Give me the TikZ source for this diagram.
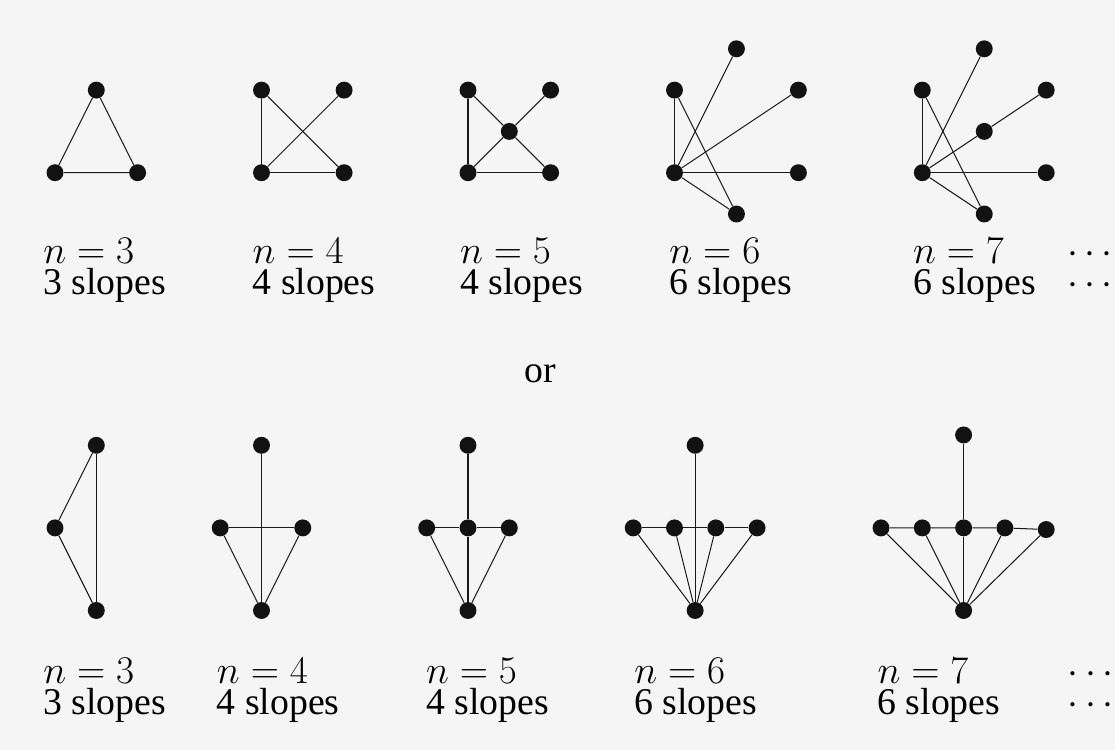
\RequirePackage{fix-cm}
\documentclass[tikz,border=0pt]{standalone}
\usepackage[no-math]{fontspec}
\setmainfont{Liberation Serif}
\usepackage{xcolor}
\definecolor{bgcol}{HTML}{F5F5F5}
\tikzset{
  vtx/.style={circle,fill=black!93,inner sep=0pt,minimum size=0.41cm},
  edg/.style={line width=0.7pt,black!90},
  lbl/.style={anchor=base west,inner sep=0pt,font=\fontsize{26}{28}\selectfont},
  mlbl/.style={lbl,font=\fontsize{27}{29}\selectfont},
}

\begin{document}
\begin{tikzpicture}
	\fill[bgcol] (-1.332,-13.978) rectangle (25.666,4.182);
	\useasboundingbox (-1.332,-13.978) rectangle (25.666,4.182);

	% (top row, n=3)
	\node[vtx] (t3a) at (0,0) {};
	\node[vtx] (t3b) at (1,2) {};
	\node[vtx] (t3c) at (2,0) {};
	\draw[edg] (t3a) -- (t3b) -- (t3c) -- (t3a);

	% (top row, n=4)
	\begin{scope}[xshift=5cm]
		\node[vtx] (t4a) at (0,0) {};
		\node[vtx] (t4b) at (0,2) {};
		\node[vtx] (t4c) at (2,2) {};
		\node[vtx] (t4d) at (2,0) {};
		\draw[edg] (t4a) -- (t4b);
		\draw[edg] (t4a) -- (t4d);
		\draw[edg] (t4b) -- (t4d);
		\draw[edg] (t4a) -- (t4c);
	\end{scope}

	% (top row, n=5)
	\begin{scope}[xshift=10cm]
		\node[vtx] (t5a) at (0,0) {};
		\node[vtx] (t5b) at (0,2) {};
		\node[vtx] (t5c) at (2,2) {};
		\node[vtx] (t5m) at (1,1) {};
		\node[vtx] (t5d) at (2,0) {};
		\draw[edg] (t5a) -- (t5b);
		\draw[edg] (t5a) -- (t5d);
		\draw[edg] (t5b) -- (t5m) -- (t5d);
		\draw[edg] (t5a) -- (t5m) -- (t5c);
	\end{scope}

	% (top row, n=6)
	\begin{scope}[xshift=15cm]
		\node[vtx] (t6o) at (0,0) {};
		\node[vtx] (t6b) at (0,2) {};
		\node[vtx] (t6c) at (1.5,3) {};
		\node[vtx] (t6d) at (3,2) {};
		\node[vtx] (t6e) at (3,0) {};
		\node[vtx] (t6f) at (1.5,-1) {};
		\draw[edg] (t6o) -- (t6b);
		\draw[edg] (t6o) -- (t6c);
		\draw[edg] (t6o) -- (t6d);
		\draw[edg] (t6o) -- (t6e);
		\draw[edg] (t6o) -- (t6f);
		\draw[edg] (t6b) -- (t6f);
	\end{scope}

	% (top row, n=7)
	\begin{scope}[xshift=21cm]
		\node[vtx] (t7o) at (0,0) {};
		\node[vtx] (t7b) at (0,2) {};
		\node[vtx] (t7c) at (1.5,3) {};
		\node[vtx] (t7d) at (3,2) {};
		\node[vtx] (t7m) at (1.5,1) {};
		\node[vtx] (t7e) at (3,0) {};
		\node[vtx] (t7f) at (1.5,-1) {};
		\draw[edg] (t7o) -- (t7b);
		\draw[edg] (t7o) -- (t7c);
		\draw[edg] (t7o) -- (t7m) -- (t7d);
		\draw[edg] (t7o) -- (t7e);
		\draw[edg] (t7o) -- (t7f);
		\draw[edg] (t7b) -- (t7f);
	\end{scope}

	\node[mlbl] (tn3) at (-0.29,-2.194) {$n=3$};
	\node[lbl] (ts3) at (-0.29,-2.96) {3 slopes};
	\node[mlbl] (tn4) at (4.78,-2.194) {$n=4$};
	\node[lbl] (ts4) at (4.78,-2.96) {4 slopes};
	\node[mlbl] (tn5) at (9.8,-2.194) {$n=5$};
	\node[lbl] (ts5) at (9.8,-2.96) {4 slopes};
	\node[mlbl] (tn6) at (14.87,-2.194) {$n=6$};
	\node[lbl] (ts6) at (14.87,-2.96) {6 slopes};
	\node[mlbl] (tn7) at (20.77,-2.194) {$n=7$};
	\node[lbl] (ts7) at (20.77,-2.96) {6 slopes};
	\node[mlbl] (tdn) at (24.5,-2.194) {$\cdots$};
	\node[mlbl] (tds) at (24.5,-2.96) {$\cdots$};

	\node[lbl,anchor=base] (or) at (11.74,-5.07) {or};

	% (bottom row, n=3)
	\begin{scope}[yshift=-8.6cm]
		\node[vtx] (b3a) at (1,2) {};
		\node[vtx] (b3b) at (0,0) {};
		\node[vtx] (b3c) at (1,-2) {};
		\draw[edg] (b3a) -- (b3b) -- (b3c);
		\draw[edg] (b3a) -- (b3c);
	\end{scope}

	% (bottom row, n=4)
	\begin{scope}[xshift=5cm,yshift=-8.6cm]
		\node[vtx] (b4t) at (0,2) {};
		\node[vtx] (b4l) at (-1,0) {};
		\node[vtx] (b4r) at (1,0) {};
		\node[vtx] (b4u) at (0,-2) {};
		\draw[edg] (b4t) -- (b4u);
		\draw[edg] (b4l) -- (b4r);
		\draw[edg] (b4l) -- (b4u);
		\draw[edg] (b4r) -- (b4u);
	\end{scope}

	% (bottom row, n=5)
	\begin{scope}[xshift=10cm,yshift=-8.6cm]
		\node[vtx] (b5t) at (0,2) {};
		\node[vtx] (b5l) at (-1,0) {};
		\node[vtx] (b5m) at (0,0) {};
		\node[vtx] (b5r) at (1,0) {};
		\node[vtx] (b5u) at (0,-2) {};
		\draw[edg] (b5t) -- (b5m) -- (b5u);
		\draw[edg] (b5l) -- (b5m) -- (b5r);
		\draw[edg] (b5l) -- (b5u);
		\draw[edg] (b5r) -- (b5u);
	\end{scope}

	% (bottom row, n=6)
	\begin{scope}[xshift=15.5cm,yshift=-8.6cm]
		\node[vtx] (b6t) at (0,2) {};
		\node[vtx] (b6p) at (-1.5,0) {};
		\node[vtx] (b6q) at (-0.5,0) {};
		\node[vtx] (b6r) at (0.5,0) {};
		\node[vtx] (b6s) at (1.5,0) {};
		\node[vtx] (b6u) at (0,-2) {};
		\draw[edg] (b6t) -- (b6u);
		\draw[edg] (b6p) -- (b6q) -- (b6r) -- (b6s);
		\draw[edg] (b6p) -- (b6u);
		\draw[edg] (b6q) -- (b6u);
		\draw[edg] (b6r) -- (b6u);
		\draw[edg] (b6s) -- (b6u);
	\end{scope}

	% (bottom row, n=7)
	\begin{scope}[xshift=22cm,yshift=-8.6cm]
		\node[vtx] (b7t) at (0,2.25) {};
		\node[vtx] (b7p) at (-2,0) {};
		\node[vtx] (b7q) at (-1,0) {};
		\node[vtx] (b7m) at (0,0) {};
		\node[vtx] (b7r) at (1,0) {};
		\node[vtx] (b7s) at (2,-0.04) {};
		\node[vtx] (b7u) at (0,-2) {};
		\draw[edg] (b7t) -- (b7m) -- (b7u);
		\draw[edg] (b7p) -- (b7q) -- (b7m) -- (b7r) -- (b7s);
		\draw[edg] (b7p) -- (b7u);
		\draw[edg] (b7q) -- (b7u);
		\draw[edg] (b7r) -- (b7u);
		\draw[edg] (b7s) -- (b7u);
	\end{scope}

	\node[mlbl] (bn3) at (-0.29,-12.36) {$n=3$};
	\node[lbl] (bs3) at (-0.29,-13.13) {3 slopes};
	\node[mlbl] (bn4) at (3.915,-12.36) {$n=4$};
	\node[lbl] (bs4) at (3.915,-13.13) {4 slopes};
	\node[mlbl] (bn5) at (8.98,-12.36) {$n=5$};
	\node[lbl] (bs5) at (8.98,-13.13) {4 slopes};
	\node[mlbl] (bn6) at (14.02,-12.36) {$n=6$};
	\node[lbl] (bs6) at (14.02,-13.13) {6 slopes};
	\node[mlbl] (bn7) at (19.91,-12.36) {$n=7$};
	\node[lbl] (bs7) at (19.91,-13.13) {6 slopes};
	\node[mlbl] (bdn) at (24.52,-12.36) {$\cdots$};
	\node[mlbl] (bds) at (24.52,-13.13) {$\cdots$};
\end{tikzpicture}
\end{document}
